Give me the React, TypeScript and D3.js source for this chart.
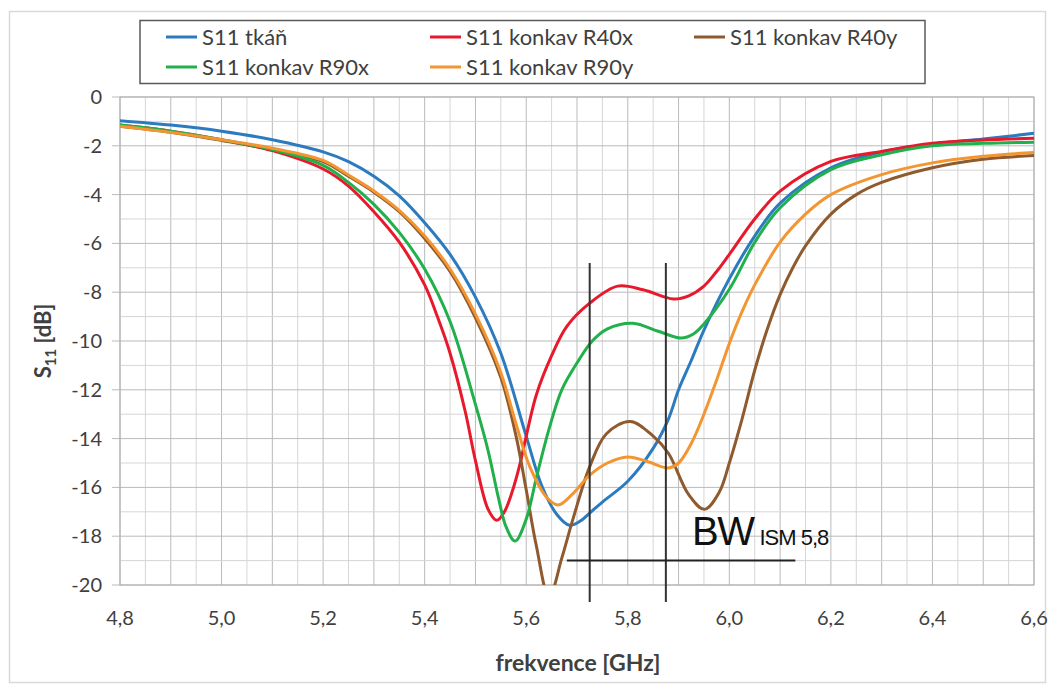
import * as d3 from "d3";
import { useEffect } from "react";

// frequency samples (GHz) and S11 values (dB) per series
const blueF = [4.8, 4.9, 5.0, 5.1, 5.2, 5.25, 5.3, 5.35, 5.4, 5.45, 5.5, 5.55, 5.6, 5.63, 5.66, 5.685, 5.705, 5.725, 5.75, 5.8, 5.85, 5.88, 5.9, 5.925, 5.95, 6.0, 6.05, 6.1, 6.2, 6.3, 6.4, 6.5, 6.6];
const blueV = [-0.97, -1.15, -1.4, -1.75, -2.25, -2.65, -3.25, -4.05, -5.15, -6.45, -8.2, -10.5, -13.9, -15.9, -17.1, -17.55, -17.4, -17.05, -16.6, -15.75, -14.4, -13.2, -12.0, -10.8, -9.55, -7.45, -5.7, -4.35, -2.9, -2.25, -1.93, -1.72, -1.49];

const redF = [4.8, 4.9, 5.0, 5.1, 5.2, 5.25, 5.3, 5.35, 5.4, 5.425, 5.45, 5.48, 5.5, 5.525, 5.542, 5.557, 5.572, 5.587, 5.6, 5.62, 5.65, 5.68, 5.725, 5.78, 5.83, 5.89, 5.92, 5.95, 5.975, 6.0, 6.05, 6.1, 6.2, 6.3, 6.4, 6.5, 6.6];
const redV = [-1.15, -1.4, -1.75, -2.2, -2.95, -3.65, -4.7, -5.95, -7.7, -9.0, -10.5, -12.9, -14.9, -16.9, -17.35, -17.0, -16.2, -15.1, -13.9, -12.2, -10.6, -9.4, -8.45, -7.75, -7.9, -8.28, -8.15, -7.75, -7.15, -6.45, -5.0, -3.86, -2.64, -2.23, -1.9, -1.76, -1.69];

const brownF = [4.8, 4.9, 5.0, 5.1, 5.2, 5.25, 5.3, 5.35, 5.4, 5.45, 5.5, 5.55, 5.58, 5.6, 5.62, 5.645, 5.67, 5.692, 5.725, 5.758, 5.805, 5.85, 5.88, 5.92, 5.951, 5.98, 6.0, 6.025, 6.05, 6.075, 6.1, 6.125, 6.15, 6.2, 6.25, 6.3, 6.4, 6.5, 6.6];
const brownV = [-1.2, -1.45, -1.78, -2.15, -2.65, -3.25, -3.9, -4.7, -5.8, -7.15, -9.05, -11.5, -13.9, -16.1, -18.4, -20.5, -18.9, -17.3, -15.15, -13.8, -13.3, -13.9, -14.6, -16.3, -16.9, -16.2, -15.0, -13.2, -11.2, -9.5, -8.1, -7.0, -6.1, -4.8, -4.0, -3.5, -2.9, -2.55, -2.4];

const greenF = [4.8, 4.9, 5.0, 5.1, 5.2, 5.25, 5.3, 5.35, 5.4, 5.45, 5.5, 5.525, 5.545, 5.56, 5.578, 5.6, 5.62, 5.645, 5.67, 5.7, 5.73, 5.76, 5.81, 5.86, 5.905, 5.93, 5.95, 6.0, 6.05, 6.1, 6.2, 6.3, 6.4, 6.5, 6.6];
const greenV = [-1.15, -1.4, -1.75, -2.15, -2.8, -3.5, -4.4, -5.55, -7.05, -9.2, -12.6, -14.5, -16.4, -17.6, -18.2, -17.3, -15.6, -13.6, -12.0, -10.9, -10.0, -9.5, -9.27, -9.6, -9.88, -9.7, -9.3, -7.88, -5.96, -4.54, -2.98, -2.37, -2.0, -1.9, -1.85];

const orangeF = [4.8, 4.9, 5.0, 5.1, 5.2, 5.25, 5.3, 5.35, 5.4, 5.45, 5.5, 5.55, 5.58, 5.607, 5.64, 5.663, 5.69, 5.725, 5.76, 5.8, 5.84, 5.88, 5.9, 5.925, 5.95, 5.975, 6.0, 6.025, 6.05, 6.1, 6.15, 6.2, 6.3, 6.4, 6.5, 6.6];
const orangeV = [-1.2, -1.45, -1.75, -2.1, -2.6, -3.2, -3.85, -4.65, -5.7, -7.05, -8.9, -11.3, -13.4, -15.15, -16.4, -16.72, -16.3, -15.5, -15.0, -14.75, -14.95, -15.2, -15.0, -14.2, -13.0, -11.6, -10.1, -8.8, -7.7, -5.95, -4.8, -4.0, -3.18, -2.7, -2.43, -2.27];

const seriesNames = ["S11 tkáň", "S11 konkav R40x", "S11 konkav R40y", "S11 konkav R90x", "S11 konkav R90y"];
const seriesColors = ["#2c7bbf", "#e8192c", "#8e5a2e", "#21b04b", "#f39530"];
const seriesF = [blueF, redF, brownF, greenF, orangeF];
const seriesV = [blueV, redV, brownV, greenV, orangeV];

const xTicks = [4.8, 5.0, 5.2, 5.4, 5.6, 5.8, 6.0, 6.2, 6.4, 6.6];
const yTicks = [0, -2, -4, -6, -8, -10, -12, -14, -16, -18, -20];

// ISM 5,8 band markers
const bandEdges = [5.725, 5.875];
const bandTop = -6.8;
const bandBottom = -20.7;
const bwLineF = [5.68, 6.13];
const bwLineV = -19;

const FONT = "Lato, 'Open Sans', sans-serif";

const App = () => {
  useEffect(() => {
    document.body.style.margin = "0";
  }, []);

  const left = 120, right = 1034, top = 97, bottom = 585;
  const x = d3.scaleLinear().domain([4.8, 6.6]).range([left, right]);
  const y = d3.scaleLinear().domain([0, -20]).range([top, bottom]);

  const line = d3.line<[number, number]>()
    .x(d => x(d[0]))
    .y(d => y(d[1]))
    .curve(d3.curveCatmullRom.alpha(0.5));

  const minorX = d3.range(0, 37).map(i => 4.8 + i * 0.05);
  const minorY = d3.range(0, 21).map(i => -i);

  return (
    <svg width={1056} height={691} style={{ display: "block", background: "#fff" }}>
      <defs>
        <clipPath id="plot">
          <rect x={left} y={top} width={right - left} height={bottom - top} />
        </clipPath>
      </defs>
      <rect x={9.5} y={11.5} width={1036} height={671} fill="none" stroke="#d9d9d9" strokeWidth={1.5} />

      {/* grid */}
      {minorX.map((f, i) => (
        <line key={"gx" + i} x1={x(f)} x2={x(f)} y1={top} y2={bottom}
          stroke={i % 2 === 0 ? "#bababa" : "#d6d6d6"} strokeWidth={1} />
      ))}
      {minorY.map((v, i) => (
        <line key={"gy" + i} x1={v % 2 === 0 ? left - 8 : left} x2={right} y1={y(v)} y2={y(v)}
          stroke={v % 2 === 0 ? "#bababa" : "#d6d6d6"} strokeWidth={1} />
      ))}
      <rect x={left} y={top} width={right - left} height={bottom - top} fill="none" stroke="#b0b0b0" strokeWidth={1} />

      {/* tick labels */}
      {yTicks.map(v => (
        <text key={"yt" + v} x={102} y={y(v)} dy="0.35em" textAnchor="end"
          fontFamily={FONT} fontSize={20} fill="#404040">{v}</text>
      ))}
      {xTicks.map(f => (
        <text key={"xt" + f} x={x(f)} y={625} textAnchor="middle"
          fontFamily={FONT} fontSize={20} fill="#404040">{f.toFixed(1).replace(".", ",")}</text>
      ))}

      {/* axis titles */}
      <text x={578} y={671} textAnchor="middle" fontFamily={FONT} fontSize={23} fontWeight="bold" fill="#404040">frekvence [GHz]</text>
      <text transform="translate(51,341) rotate(-90)" textAnchor="middle" fontFamily={FONT} fontSize={22} fontWeight="bold" fill="#404040">
        S<tspan fontSize={15} dy={5}>11</tspan><tspan dy={-5}> [dB]</tspan>
      </text>

      {/* curves */}
      <g clipPath="url(#plot)">
        {seriesF.map((fs, si) => (
          <path key={"s" + si}
            d={line(fs.map((f, i) => [f, seriesV[si][i]] as [number, number])) || ""}
            fill="none" stroke={seriesColors[si]} strokeWidth={3} strokeLinejoin="round" />
        ))}
      </g>

      {/* BW ISM 5,8 annotation */}
      {bandEdges.map(f => (
        <line key={"be" + f} x1={x(f)} x2={x(f)} y1={y(bandTop)} y2={y(bandBottom)} stroke="#333" strokeWidth={2} />
      ))}
      <line x1={x(bwLineF[0])} x2={x(bwLineF[1])} y1={y(bwLineV)} y2={y(bwLineV)} stroke="#222" strokeWidth={2} />
      <text x={692} y={545} fontFamily="'Liberation Sans', Arial, sans-serif" fill="#111">
        <tspan fontSize={40} letterSpacing={-1.5}>BW</tspan>
        <tspan fontSize={22} dx={6} letterSpacing={-1}>ISM 5,8</tspan>
      </text>

      {/* legend */}
      <rect x={140} y={20.5} width={785} height={63} fill="#fff" stroke="#595959" strokeWidth={1.5} />
      {seriesNames.map((name, i) => {
        const col = i < 3 ? i : i - 3;
        const row = i < 3 ? 0 : 1;
        const lx = 166 + col * 264;
        const ly = 37 + row * 30;
        return (
          <g key={"lg" + i}>
            <line x1={lx} x2={lx + 31} y1={ly} y2={ly} stroke={seriesColors[i]} strokeWidth={3} />
            <text x={lx + 36} y={ly} dy="0.35em" fontFamily={FONT} fontSize={22} fill="#404040">{name}</text>
          </g>
        );
      })}
    </svg>
  );
};

export default App;
